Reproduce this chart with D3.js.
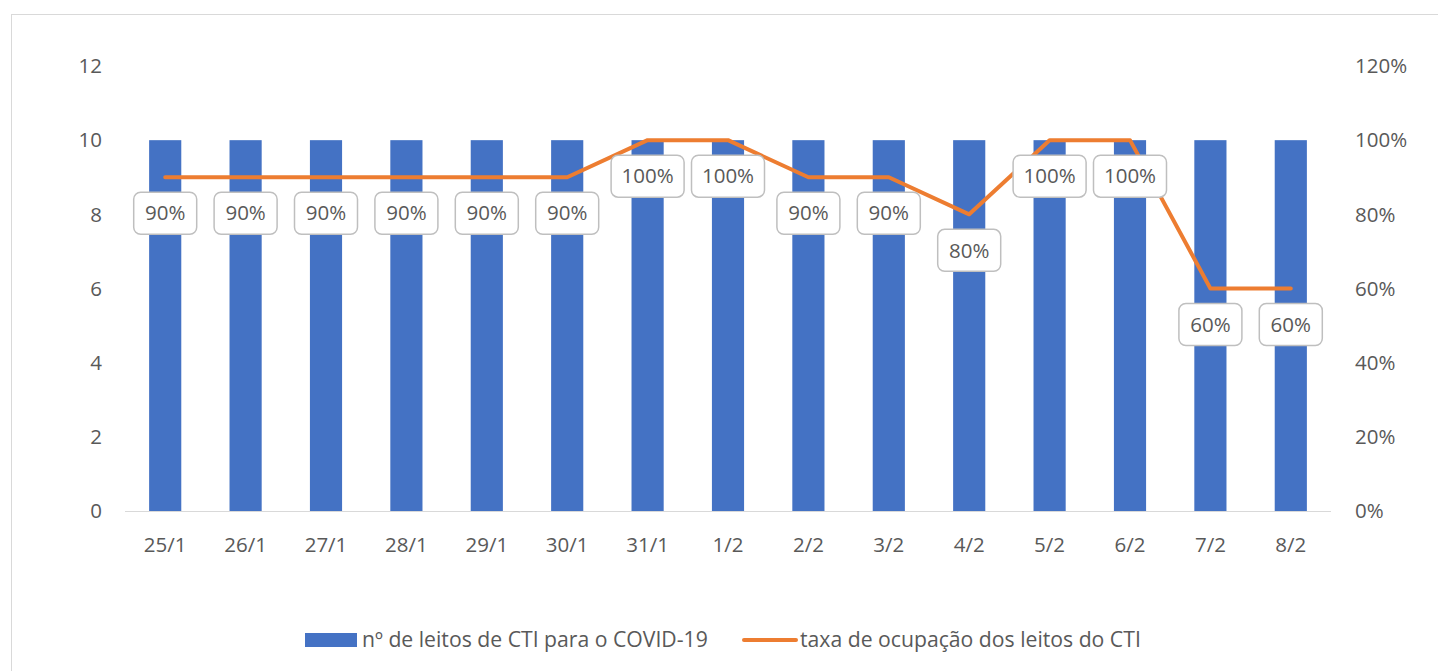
<!DOCTYPE html>
<html><head><meta charset="utf-8">
<script src="https://cdn.jsdelivr.net/npm/d3@7"></script>
<style>body{margin:0;background:#fff}svg{display:block}text{font-family:"Open Sans","Noto Sans",sans-serif;fill:#595959}</style>
</head><body><svg id="c" width="1438" height="671"></svg>
<script>
const categories=["25/1","26/1","27/1","28/1","29/1","30/1","31/1","1/2","2/2","3/2","4/2","5/2","6/2","7/2","8/2"];
const beds=[10,10,10,10,10,10,10,10,10,10,10,10,10,10,10];
const occupancy=[0.9,0.9,0.9,0.9,0.9,0.9,1.0,1.0,0.9,0.9,0.8,1.0,1.0,0.6,0.6];
const leftTicks=[0,2,4,6,8,10,12];
const rightTicks=[0,0.2,0.4,0.6,0.8,1.0,1.2];
const seriesNames=["nº de leitos de CTI para o COVID-19","taxa de ocupação dos leitos do CTI"];

const svg=d3.select("#c");
svg.append("rect").attr("x",11.5).attr("y",14.5).attr("width",1440).attr("height",700).attr("fill","#fff").attr("stroke","#D9D9D9");
const L=125,R=1331,T=66,B=511;
const x=d3.scaleBand().domain(categories).range([L,R]).paddingInner(0.6).paddingOuter(0.3);
const yL=d3.scaleLinear().domain([0,12]).range([B,T]);
const yR=d3.scaleLinear().domain([0,1.2]).range([B,T]);
const fs=20.5;
// bars
svg.selectAll(".bar").data(beds).enter().append("rect")
 .attr("x",(d,i)=>x(categories[i])).attr("width",x.bandwidth())
 .attr("y",d=>yL(d)).attr("height",d=>B-yL(d)).attr("fill","#4472C4");
// baseline
svg.append("line").attr("x1",L).attr("x2",R).attr("y1",B+0.5).attr("y2",B+0.5).attr("stroke","#D9D9D9").attr("stroke-width",1);
// axis labels
svg.selectAll(".lt").data(leftTicks).enter().append("text").attr("x",102).attr("y",d=>yL(d)).attr("dy","0.35em").attr("text-anchor","end").attr("font-size",fs).text(d=>d);
svg.selectAll(".rt").data(rightTicks).enter().append("text").attr("x",1355).attr("y",d=>yR(d)).attr("dy","0.35em").attr("text-anchor","start").attr("font-size",fs).text(d=>d3.format(".0%")(d));
svg.selectAll(".xt").data(categories).enter().append("text").attr("x",d=>x(d)+x.bandwidth()/2).attr("y",545).attr("dy","0.35em").attr("text-anchor","middle").attr("font-size",fs).text(d=>d);
// line
const cx=i=>x(categories[i])+x.bandwidth()/2;
svg.append("path").datum(occupancy).attr("fill","none").attr("stroke","#ED7D31").attr("stroke-width",4).attr("stroke-linecap","round").attr("stroke-linejoin","round")
 .attr("d",d3.line().x((d,i)=>cx(i)).y(d=>yR(d)));
// labels
const lg=svg.selectAll(".lbl").data(occupancy).enter().append("g").attr("transform",(d,i)=>`translate(${cx(i)},${yR(d)+36})`);
lg.append("rect").attr("x",d=>d>=1?-36.5:-31.5).attr("width",d=>d>=1?73:63).attr("y",-21).attr("height",42).attr("rx",7).attr("fill","#fff").attr("stroke","#BFBFBF").attr("stroke-width",1.5);
lg.append("text").attr("text-anchor","middle").attr("dy","0.35em").attr("font-size",fs).text(d=>d3.format(".0%")(d));
// legend
const lfs=21.2;
svg.append("rect").attr("x",305).attr("y",633).attr("width",52).attr("height",14).attr("fill","#4472C4");
svg.append("text").attr("x",362).attr("y",640).attr("dy","0.35em").attr("font-size",lfs).text(seriesNames[0]);
svg.append("line").attr("x1",744).attr("x2",796).attr("y1",640).attr("y2",640).attr("stroke","#ED7D31").attr("stroke-width",4).attr("stroke-linecap","round");
svg.append("text").attr("x",800).attr("y",640).attr("dy","0.35em").attr("font-size",lfs).text(seriesNames[1]);
</script></body></html>
